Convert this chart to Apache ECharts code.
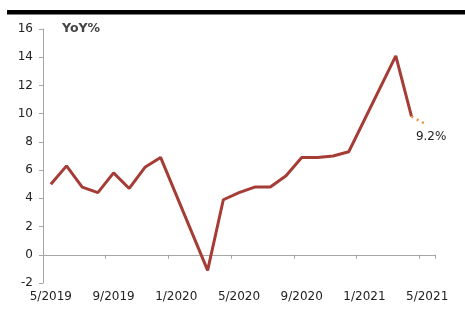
<!DOCTYPE html>
<html>
<head>
<meta charset="utf-8">
<script src="https://cdn.jsdelivr.net/npm/echarts@6/dist/echarts.min.js"></script>
<style>
html,body{margin:0;padding:0;background:#fff;}
#c{width:465px;height:318px;}
</style>
</head>
<body>
<div id="c"></div>
<script>
const categories = ['5/2019','6/2019','7/2019','8/2019','9/2019','10/2019','11/2019','12/2019',
  '1/2020','2/2020','3/2020','4/2020','5/2020','6/2020','7/2020','8/2020','9/2020','10/2020','11/2020','12/2020',
  '1/2021','2/2021','3/2021','4/2021','5/2021'];
const actual = [5.0, 6.3, 4.8, 4.4, 5.8, 4.7, 6.2, 6.9,
  null, null, -1.1, 3.9, 4.4, 4.8, 4.8, 5.6, 6.9, 6.9, 7.0, 7.3,
  null, null, 14.1, 9.8, null];
const forecast = [null,null,null,null,null,null,null,null,
  null,null,null,null,null,null,null,null,null,null,null,null,
  null,null,null,9.8,9.2];
const yTicks = {min:-2, max:16, interval:2};

const chart = echarts.init(document.getElementById('c'), null, {renderer:'canvas'});
const font = '"DejaVu Sans", sans-serif';
chart.setOption({
  animation:false,
  backgroundColor:'#fff',
  grid:{left:43, right:30, top:29, bottom:35},
  graphic:[
    {type:'rect', shape:{x:7, y:10, width:458, height:4.5}, style:{fill:'#000'}},
    {type:'text', left:62, top:22, style:{text:'YoY%', font:'600 12.5px '+font, fill:'#444'}}
  ],
  xAxis:[
    {type:'category', data:categories, boundaryGap:true, position:'bottom',
     axisLine:{show:false, onZero:false}, axisTick:{show:false}, splitLine:{show:false},
     axisLabel:{interval:3, color:'#222', fontSize:12, fontFamily:font, margin:8}},
    {type:'category', data:categories, boundaryGap:true, position:'bottom',
     axisLine:{show:true, onZero:true, lineStyle:{color:'#a6a6a6', width:1}},
     axisTick:{show:true, interval:3, length:4, inside:false, lineStyle:{color:'#a6a6a6'}},
     axisLabel:{show:false}, splitLine:{show:false}}
  ],
  yAxis:{type:'value', min:yTicks.min, max:yTicks.max, interval:yTicks.interval,
    axisLine:{show:true, lineStyle:{color:'#a6a6a6', width:1}},
    axisTick:{show:true, length:4, lineStyle:{color:'#a6a6a6'}},
    splitLine:{show:false},
    axisLabel:{color:'#222', fontSize:12, fontFamily:font, margin:10}},
  series:[
    {type:'line', data:actual, connectNulls:true, symbol:'none', xAxisIndex:0,
     lineStyle:{color:'#A63C36', width:3}},
    {type:'line', data:forecast, symbol:'none', xAxisIndex:0,
     lineStyle:{color:'#F0923A', width:2.5, type:[2,4]},
     markPoint:{symbol:'circle', symbolSize:0, data:[{coord:[24,9.2], value:'9.2%'}],
       label:{show:true, formatter:'9.2%', position:'bottom', distance:6, offset:[4,0], color:'#222', fontSize:12, fontFamily:font}}}
  ]
});
</script>
</body>
</html>
